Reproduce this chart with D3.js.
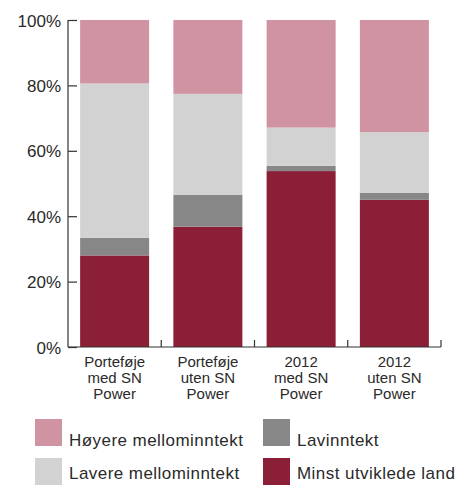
<!DOCTYPE html>
<html><head><meta charset="utf-8">
<script src="https://cdn.jsdelivr.net/npm/d3@7"></script>
<style>body{margin:0;background:#fff}svg{display:block;font-family:"Liberation Sans",Arial,sans-serif}</style>
</head><body><svg id="c" width="459" height="485"></svg>
<script>
const categories = [["Porteføje","med SN","Power"],["Porteføje","uten SN","Power"],["2012","med SN","Power"],["2012","uten SN","Power"]];
const seriesNames = ["Minst utviklede land","Lavinntekt","Lavere mellominntekt","Høyere mellominntekt"];
const minst = [28.0, 36.8, 53.8, 45.0];
const lavinntekt = [5.4, 9.7, 1.6, 2.2];
const lavere = [47.2, 30.9, 11.7, 18.5];
const hoyere = [19.4, 22.6, 32.9, 34.3];
const yTicks = [0, 20, 40, 60, 80, 100];
const colors = ["#8b1f37", "#878787", "#d2d2d2", "#cf93a2"];

const svg = d3.select("#c");
const x = d3.scaleBand().domain(d3.range(categories.length)).range([68, 441]).paddingInner(0.26).paddingOuter(0.13);
const y = d3.scaleLinear().domain([0, 100]).range([347, 20]);

const rows = categories.map((c, i) => ({i, "Minst utviklede land": minst[i], "Lavinntekt": lavinntekt[i], "Lavere mellominntekt": lavere[i], "Høyere mellominntekt": hoyere[i]}));
const stacked = d3.stack().keys(seriesNames)(rows);

svg.append("g").selectAll("g").data(stacked).join("g")
  .attr("fill", (d, k) => colors[k])
  .selectAll("rect").data(d => d).join("rect")
  .attr("x", d => x(d.data.i)).attr("width", x.bandwidth())
  .attr("y", d => y(d[1])).attr("height", d => y(d[0]) - y(d[1]));

// y axis
const ya = svg.append("g").attr("transform", "translate(68,0)")
  .call(d3.axisRight(y).tickValues(yTicks).tickFormat(d => d + "%").tickSize(9).tickPadding(0));
ya.select(".domain").attr("stroke", "#333").attr("stroke-width", 1.2).attr("d", "M0,20V347");
ya.selectAll(".tick line").attr("stroke", "#333").attr("stroke-width", 1.2);
ya.selectAll(".tick text").attr("x", -7).attr("text-anchor", "end").attr("dy", "0.36em")
  .attr("font-size", 17).attr("fill", "#2a2a2a").attr("font-family", "Liberation Sans, Arial, sans-serif");

// x axis line with ticks at band boundaries
const step = x.step();
const bounds = d3.range(categories.length + 1).map(k => 68 + k * step);
svg.append("line").attr("x1", 68).attr("x2", bounds[bounds.length - 1]).attr("y1", 347).attr("y2", 347)
  .attr("stroke", "#333").attr("stroke-width", 1.2);
svg.selectAll(".xt").data(bounds.slice(1)).join("line").attr("class", "xt")
  .attr("x1", d => d).attr("x2", d => d).attr("y1", 347).attr("y2", 340)
  .attr("stroke", "#333").attr("stroke-width", 1.2);

// x labels
const xl = svg.append("g").selectAll("text").data(categories).join("text")
  .attr("text-anchor", "middle").attr("font-size", 15).attr("fill", "#2a2a2a")
  .attr("transform", (d, i) => `translate(${x(i) + x.bandwidth() / 2},366.5)`);
xl.selectAll("tspan").data(d => d).join("tspan")
  .attr("x", 0).attr("y", (d, j) => j * 16).text(d => d);

// legend
const legendItems = [
  {name: "Høyere mellominntekt", c: colors[3], lx: 35, ly: 419},
  {name: "Lavinntekt", c: colors[1], lx: 263, ly: 419},
  {name: "Lavere mellominntekt", c: colors[2], lx: 35, ly: 458},
  {name: "Minst utviklede land", c: colors[0], lx: 263, ly: 458}
];
const lg = svg.append("g").selectAll("g").data(legendItems).join("g")
  .attr("transform", d => `translate(${d.lx},${d.ly})`);
lg.append("rect").attr("width", 27).attr("height", 27).attr("fill", d => d.c);
lg.append("text").attr("x", 34).attr("y", (d, i) => i < 2 ? 26.5 : 20.5).attr("font-size", 17)
  .attr("letter-spacing", 0.45).attr("fill", "#2a2a2a").text(d => d.name);
</script></body></html>
